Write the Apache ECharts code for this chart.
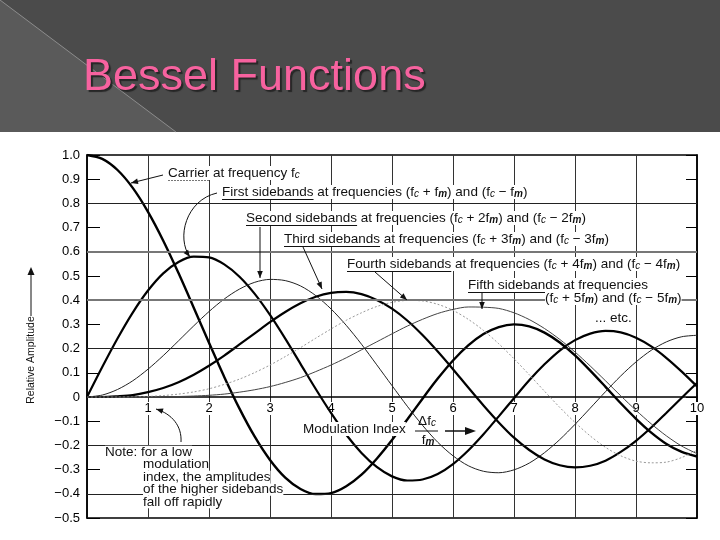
<!DOCTYPE html>
<html><head><meta charset="utf-8">
<script src="https://cdn.jsdelivr.net/npm/echarts@6/dist/echarts.min.js"></script>
<style>html,body{margin:0;padding:0;background:#fff}#c{width:720px;height:540px}</style>
</head><body><div id="c"></div>
<script>
// ---- data (modulation index vs relative amplitude) ----
const modIndex = [0,0.25,0.5,0.75,1,1.25,1.5,1.75,2,2.25,2.5,2.75,3,3.25,3.5,3.75,4,4.25,4.5,4.75,5,5.25,5.5,5.75,6,6.25,6.5,6.75,7,7.25,7.5,7.75,8,8.25,8.5,8.75,9,9.25,9.5,9.75,10];
const carrier = [1.000,0.984,0.938,0.864,0.765,0.646,0.512,0.369,0.224,0.083,-0.048,-0.164,-0.260,-0.333,-0.380,-0.401,-0.397,-0.369,-0.321,-0.255,-0.178,-0.093,-0.007,0.076,0.151,0.213,0.260,0.289,0.300,0.292,0.266,0.225,0.172,0.109,0.042,-0.026,-0.090,-0.147,-0.194,-0.227,-0.246];
const firstSB = [0,0.124,0.242,0.349,0.440,0.511,0.558,0.580,0.577,0.548,0.497,0.426,0.339,0.241,0.137,0.033,-0.066,-0.156,-0.231,-0.289,-0.328,-0.345,-0.341,-0.318,-0.277,-0.221,-0.154,-0.080,-0.005,0.069,0.135,0.192,0.235,0.262,0.273,0.267,0.245,0.209,0.161,0.105,0.044];
const secondSB = [0,0.008,0.031,0.067,0.115,0.171,0.232,0.294,0.353,0.405,0.446,0.474,0.486,0.481,0.459,0.419,0.364,0.296,0.218,0.133,0.047,-0.038,-0.117,-0.187,-0.243,-0.284,-0.307,-0.313,-0.301,-0.273,-0.230,-0.176,-0.113,-0.046,0.022,0.087,0.145,0.193,0.228,0.249,0.255];
const thirdSB = [0,0.000,0.003,0.008,0.020,0.037,0.061,0.092,0.129,0.171,0.217,0.263,0.309,0.351,0.387,0.414,0.430,0.434,0.425,0.401,0.365,0.316,0.256,0.188,0.115,0.039,-0.035,-0.105,-0.168,-0.219,-0.258,-0.282,-0.291,-0.284,-0.263,-0.227,-0.181,-0.126,-0.065,-0.003,0.058];
const fourthSB = [0,0.000,0.000,0.001,0.002,0.006,0.012,0.021,0.034,0.052,0.074,0.101,0.132,0.167,0.204,0.243,0.281,0.317,0.348,0.374,0.391,0.399,0.397,0.383,0.358,0.321,0.275,0.220,0.158,0.092,0.024,-0.043,-0.105,-0.161,-0.208,-0.243,-0.265,-0.272,-0.269,-0.250,-0.220];
const fifthSB = [0,0.000,0.000,0.000,0.000,0.001,0.002,0.004,0.007,0.012,0.020,0.030,0.043,0.060,0.080,0.105,0.132,0.162,0.195,0.228,0.261,0.293,0.321,0.345,0.362,0.372,0.371,0.366,0.348,0.320,0.283,0.238,0.186,0.128,0.067,0.005,-0.055,-0.111,-0.161,-0.203,-0.234];
const xTickLabels = ['', '1','2','3','4','5','6','7','8','9','10'];
const hGridValues = [0.8,0.6,0.4,0.2,-0.2,-0.4];

// ---- chart ----
const F = '"Liberation Sans", Arial, sans-serif';
const FS = 13.5;
const chart = echarts.init(document.getElementById('c'), null, {renderer:'canvas'});
const pairs = arr => modIndex.map((x,i)=>[x, arr[i]]);
function curve(name, arr, ls){
  return {type:'line', name, data:pairs(arr), smooth:0.3, symbol:'none', showSymbol:false, silent:true, z:3, lineStyle:ls};
}
const ctx = document.createElement('canvas').getContext('2d');
ctx.font = FS + 'px ' + F;
const tw = s => ctx.measureText(s).width;

const RICH = {
  c:{fontSize:10, fontStyle:'italic', fontFamily:F, fill:'#111', verticalAlign:'bottom', padding:[4,0,0,0]},
  m:{fontSize:10, fontStyle:'italic', fontWeight:'bold', fontFamily:F, fill:'#111', verticalAlign:'bottom', padding:[4,0,0,0]}
};
function txt(x,y,text,opt){
  return {type:'text', x, y, z:20, style:Object.assign({text, fill:'#111', fontSize:FS, fontFamily:F, align:'left', verticalAlign:'middle', rich:RICH, backgroundColor:'#fff'}, opt||{})};
}
function seg(x1,y1,x2,y2,st){ return {type:'line', z:20, shape:{x1,y1,x2,y2}, style:Object.assign({stroke:'#111', lineWidth:1}, st||{})}; }
function head(tx,ty,dx,dy,L,W){
  L=L||7; W=W||2.8;
  const n=Math.hypot(dx,dy), ux=dx/n, uy=dy/n, bx=tx-ux*L, by=ty-uy*L;
  return {type:'polygon', z:21, shape:{points:[[tx,ty],[bx-uy*W,by+ux*W],[bx+uy*W,by-ux*W]]}, style:{fill:'#111'}};
}
function arrow(x1,y1,x2,y2){ return [seg(x1,y1,x2,y2), head(x2,y2,x2-x1,y2-y1)]; }
function bez(x1,y1,c1x,c1y,c2x,c2y,x2,y2){
  return [{type:'bezierCurve', z:20, shape:{x1,y1,cpx1:c1x,cpy1:c1y,cpx2:c2x,cpy2:c2y,x2,y2}, style:{stroke:'#111', lineWidth:1, fill:'none'}},
          head(x2,y2,x2-c2x,y2-c2y)];
}
function under(x,y,s,st){ return seg(x,y+7.5,x+tw(s),y+7.5,st); }
const NOTE = {lineHeight:12.5};

const graphic = [
  {type:'rect', z:0, shape:{x:0,y:0,width:720,height:132}, style:{fill:'#4b4b4b'}},
  {type:'polygon', z:1, shape:{points:[[0,0],[176,132],[0,132]]}, style:{fill:'#5a5a5a'}},
  {type:'line', z:2, shape:{x1:0,y1:0,x2:176,y2:132}, style:{stroke:'#8c8c8c', lineWidth:1}},
  // axis name
  {type:'text', x:31, y:360, rotation:Math.PI/2, z:20, style:{text:'Relative Amplitude', fill:'#111', fontSize:10.5, fontFamily:F, align:'center', verticalAlign:'middle'}},
  seg(31,316,31,274), head(31,267,0,-1,8,3.5),
  // annotations
  txt(168,173,'Carrier at frequency f{c|c}'), under(168,173,'Carrier',{stroke:'#777', lineDash:[2,1]}),
  ...arrow(163,175,131,183),
  txt(222,192,'First sidebands at frequencies (f{c|c} + f{m|m}) and (f{c|c} − f{m|m})'), under(222,192,'First sidebands'),
  ...bez(217,193,186,200,176,238,190,257),
  txt(246,218,'Second sidebands at frequencies (f{c|c} + 2f{m|m}) and (f{c|c} − 2f{m|m})'), under(246,218,'Second sidebands'),
  ...arrow(260,227,260,278),
  txt(284,239,'Third sidebands at frequencies (f{c|c} + 3f{m|m}) and (f{c|c} − 3f{m|m})'), under(284,239,'Third sidebands'),
  ...arrow(303,247,322,289),
  txt(347,264,'Fourth sidebands at frequencies (f{c|c} + 4f{m|m}) and (f{c|c} − 4f{m|m})'), under(347,264,'Fourth sidebands'),
  ...arrow(375,272,407,300),
  txt(468,285,'Fifth sidebands at frequencies'), under(468,285,'Fifth sidebands'),
  txt(545,298,'(f{c|c} + 5f{m|m}) and (f{c|c} − 5f{m|m})'),
  ...arrow(482,293,482,309),
  txt(595,318,'... etc.'),
  txt(303,429,'Modulation Index'),
  txt(427,421,'Δf{c|c}',{align:'center', backgroundColor:null}),
  seg(415,431,438,431),
  txt(428,440,'f{m|m}',{align:'center', backgroundColor:null}),
  seg(445,431,466,431,{lineWidth:1.5}), head(476,431,1,0,11,4),
  txt(105,452,'Note: for a low',NOTE),
  txt(143,464.5,'modulation',NOTE),
  txt(143,477,'index, the amplitudes',NOTE),
  txt(143,489.5,'of the higher sidebands',NOTE),
  txt(143,502,'fall off rapidly',NOTE),
  ...bez(181,442,182,426,172,414,156,409)
];

const option = {
  backgroundColor:'#fff',
  animation:false,
  title:{text:'Bessel Functions', left:83, top:55, padding:0,
    textStyle:{color:'#f7629f', fontSize:45, fontWeight:'normal', fontFamily:F,
      textShadowColor:'#262626', textShadowOffsetX:2, textShadowOffsetY:2, textShadowBlur:1}},
  grid:{left:87, right:23, top:155, bottom:22, show:true, borderColor:'#000', borderWidth:1.5, backgroundColor:'transparent'},
  xAxis:{type:'value', min:0, max:10, interval:1, position:'bottom', offset:-121,
    axisLine:{onZero:false, lineStyle:{color:'#000', width:1.5}},
    axisTick:{show:false},
    splitLine:{show:true, lineStyle:{color:'#333', width:1}},
    axisLabel:{formatter:v=>xTickLabels[Math.round(v)], color:'#000', fontSize:13, fontFamily:F, margin:5, backgroundColor:'#fff', padding:[0,1]}},
  yAxis:[
    {type:'value', min:-0.5, max:1, interval:0.1, position:'left',
      axisLine:{show:true, onZero:false, lineStyle:{color:'#000', width:1.5}},
      axisTick:{show:true, inside:true, length:13, lineStyle:{color:'#000', width:1}},
      splitLine:{show:false},
      axisLabel:{formatter:v=>{const r=Math.round(v*10)/10; if(r===0) return '0'; return (r<0?'−':'')+Math.abs(r).toFixed(1);}, color:'#000', fontSize:13, fontFamily:F, margin:7}},
    {type:'value', min:-0.5, max:1, interval:0.1, position:'right',
      axisLine:{show:true, onZero:false, lineStyle:{color:'#000', width:1.5}},
      axisTick:{show:true, inside:true, length:11, lineStyle:{color:'#000', width:1}},
      splitLine:{show:false}, axisLabel:{show:false}}
  ],
  graphic:graphic,
  series:[
    {type:'line', name:'grid', data:[], silent:true, z:1,
      markLine:{silent:true, symbol:'none', label:{show:false}, animation:false,
        data:hGridValues.map(v=>({yAxis:v, lineStyle:{type:'solid', color:(v===0.6||v===0.4)?'#777':'#222', width:(v===0.6||v===0.4)?2:1}}))}},
    curve('Carrier (J0)', carrier, {color:'#000', width:2.4}),
    curve('First sidebands (J1)', firstSB, {color:'#000', width:2.2}),
    curve('Second sidebands (J2)', secondSB, {color:'#222', width:1}),
    curve('Third sidebands (J3)', thirdSB, {color:'#000', width:2.2}),
    curve('Fourth sidebands (J4)', fourthSB, {color:'#999', width:1, type:[2,2]}),
    curve('Fifth sidebands (J5)', fifthSB, {color:'#444', width:1})
  ]
};
chart.setOption(option);
</script></body></html>
